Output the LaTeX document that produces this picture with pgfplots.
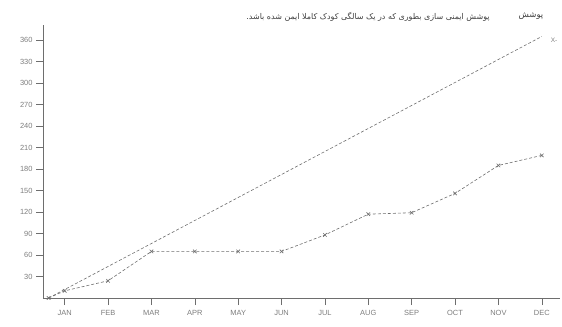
\documentclass[border=0pt]{standalone}
\usepackage{pgfplots}
\pgfplotsset{compat=1.18}
\usepackage{fontspec}
\setmainfont{Liberation Sans}
\newfontfamily\arabicfont[Script=Arabic]{DejaVu Sans}
\TeXXeTstate=1
\definecolor{lgray}{RGB}{110,110,110}
\definecolor{tgray}{RGB}{125,125,125}
\begin{document}
\begin{tikzpicture}
\path[use as bounding box] (-43bp,-29bp) rectangle (519bp,298bp);
\begin{axis}[
  scale only axis,
  width=517bp, height=273bp,
  at={(0,0)}, anchor=south west,
  xmin=0.5, xmax=12.42,
  ymin=0, ymax=381,
  axis lines=left,
  axis line style={lgray, line width=0.5pt, -},
  xtick={1,...,12},
  xticklabels={JAN,FEB,MAR,APR,MAY,JUN,JUL,AUG,SEP,OCT,NOV,DEC},
  ytick={30,60,...,360},
  tick align=outside,
  major tick length=7bp,
  tick style={lgray, line width=0.5pt},
  tick label style={font=\fontsize{7.5}{8}\selectfont, text=tgray},
  xticklabel style={yshift=-2bp},
  /pgf/number format/assume math mode=true,
  clip=false,
]
\addplot[lgray, line width=0.6pt, densely dashed] coordinates {(0.63,0) (12,365)};
\addplot[lgray, line width=0.6pt, densely dashed, mark=x, mark size=2.5pt, mark options={solid}]
 coordinates {(0.63,0) (1,10) (2,24) (3,65) (4,65) (5,65) (6,65) (7,88) (8,117) (9,119) (10,146) (11,185) (12,199)};
\end{axis}
\node[text=black!75, font=\arabicfont\fontsize{8}{10}\selectfont] at (325bp,281bp) {\beginR پوشش ایمنی سازی بطوری که در یک سالگی کودک کاملا ایمن شده باشد.\endR};
\node[text=black!75, font=\arabicfont\fontsize{8.5}{10}\selectfont] at (488bp,282bp) {\beginR پوشش\endR};
\node[text=tgray, font=\fontsize{6.5}{7}\selectfont] at (511bp,258bp) {X-};
\end{tikzpicture}
\end{document}
